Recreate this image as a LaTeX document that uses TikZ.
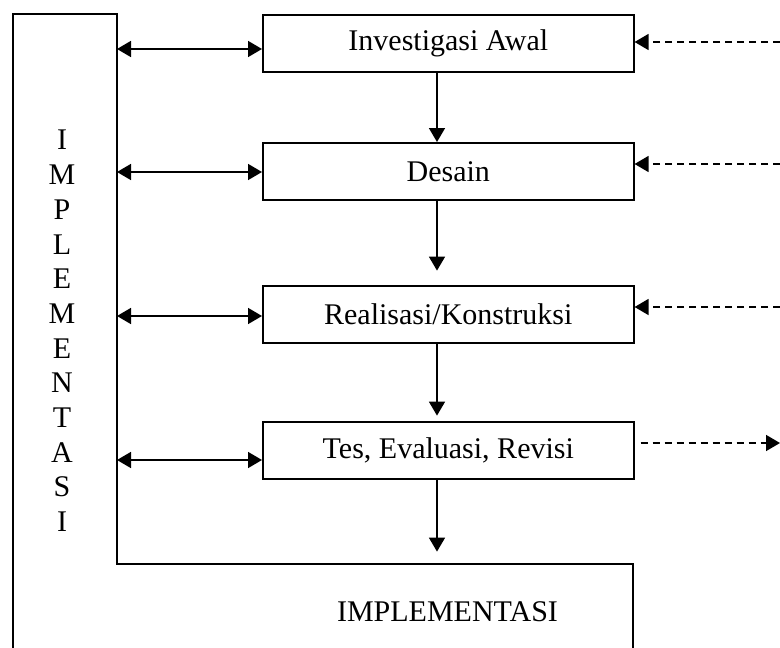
\documentclass[tikz,border=0pt]{standalone}
\usepackage{fontspec}
\setmainfont{Liberation Serif}
\usetikzlibrary{arrows.meta,calc}
\begin{document}
\begin{tikzpicture}[x=1pt,y=-1pt,
  txt/.style={font=\fontsize{30}{34.7}\selectfont, inner sep=0pt},
  box/.style={txt, draw, line width=1.6pt, minimum width=371pt, minimum height=57pt, anchor=north west},
  conn/.style={line width=1.6pt, -{Triangle[length=14pt,width=16pt]}},
  dconn/.style={line width=1.6pt, {Triangle[length=14pt,width=16pt]}-{Triangle[length=14pt,width=16pt]}},
  dashconn/.style={conn, dash pattern=on 7pt off 5pt},
]
\useasboundingbox (0,0) rectangle (780,648);
% L-shaped frame
\coordinate (fbl) at (13,652);
\coordinate (ftl) at (13,14);
\coordinate (ftr) at (117,14);
\coordinate (fin) at (117,564);
\coordinate (fout) at (633,564);
\coordinate (fbr) at (633,652);
\draw[line width=1.6pt] (fbl) -- (ftl) -- (ftr) -- (fin) -- (fout) -- (fbr);
% boxes
\node[box] (b1) at (262,14) {Investigasi Awal};
\node[box] (b2) at (262,142) {Desain};
\node[box] (b3) at (262,285) {Realisasi/Konstruksi};
\node[box] (b4) at (262,421) {Tes, Evaluasi, Revisi};
% labels
\node[txt, align=center] (vimpl) at (62,331) {I\\M\\P\\L\\E\\M\\E\\N\\T\\A\\S\\I};
\node[txt] (himpl) at (447.5,612) {IMPLEMENTASI};
% left double arrows
\coordinate (a1) at (117,49);
\coordinate (a2) at (117,172);
\coordinate (a3) at (117,316);
\coordinate (a4) at (117,460);
\draw[dconn] (a1) -- (a1 -| b1.west);
\draw[dconn] (a2) -- (a2 -| b2.west);
\draw[dconn] (a3) -- (a3 -| b3.west);
\draw[dconn] (a4) -- (a4 -| b4.west);
% right dashed arrows
\coordinate (r1) at (780,42);
\coordinate (r2) at (780,164);
\coordinate (r3) at (780,307);
\coordinate (r4) at (780,443);
\draw[dashconn] (r1) -- (r1 -| b1.east);
\draw[dashconn] (r2) -- (r2 -| b2.east);
\draw[dashconn] (r3) -- (r3 -| b3.east);
\draw[dashconn] ($(r4 -| b4.east)+(6,0)$) -- (r4);
% down arrows
\coordinate (dx) at (437,0);
\draw[conn] (b1.south -| dx) -- (b2.north -| dx);
\draw[conn] (b2.south -| dx) -- ++(0,70);
\draw[conn] (b3.south -| dx) -- ++(0,72);
\draw[conn] (b4.south -| dx) -- ++(0,72);
\end{tikzpicture}
\end{document}
